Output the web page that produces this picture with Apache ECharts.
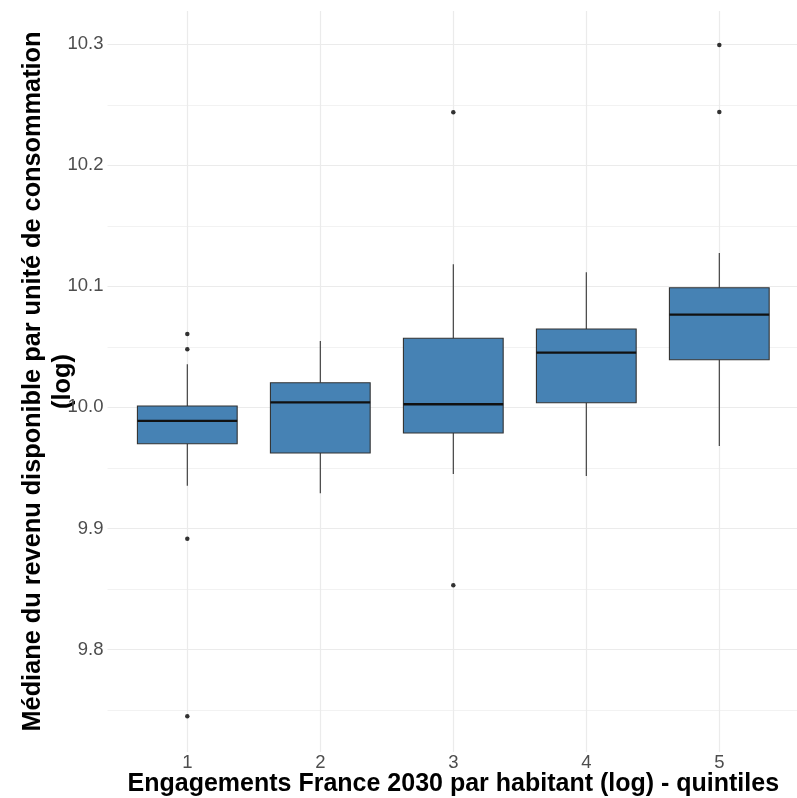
<!DOCTYPE html>
<html><head><meta charset="utf-8">
<script src="https://cdn.jsdelivr.net/npm/echarts@6/dist/echarts.min.js"></script>
<style>html,body{margin:0;padding:0;background:#fff}#c{width:797px;height:798px}</style>
</head><body><div id="c"></div>
<script>
// ---- data ----
const categories = ['1', '2', '3', '4', '5'];
const whiskerLow  = [9.9353, 9.9290, 9.9450, 9.9433, 9.9681];
const q1          = [9.9700, 9.9623, 9.9789, 10.0039, 10.0394];
const median      = [9.9888, 10.0042, 10.0026, 10.0452, 10.0766];
const q3          = [10.0012, 10.0204, 10.0571, 10.0648, 10.0989];
const whiskerHigh = [10.0356, 10.0549, 10.1182, 10.1116, 10.1276];
const outlierGroup = [0, 0, 0, 0, 2, 2, 4, 4];
const outlierValue = [10.0607, 10.0480, 9.8915, 9.7448, 10.2438, 9.8530, 10.2994, 10.2441];
const yMajorTicks  = [9.8, 9.9, 10.0, 10.1, 10.2, 10.3];
const yMajorLabels = ['9.8', '9.9', '10.0', '10.1', '10.2', '10.3'];
const yMinorTicks  = [9.75, 9.85, 9.95, 10.05, 10.15, 10.25];
const xTitle = 'Engagements France 2030 par habitant (log) - quintiles';
const yTitle = 'Médiane du revenu disponible par unité de consommation\n(log)';

// ---- chart ----
const FONT = '"Liberation Sans", Arial, sans-serif';
const Y_MIN = 9.7153, Y_MAX = 10.3275;
const chart = echarts.init(document.getElementById('c'), null, {renderer: 'canvas'});

const boxData = categories.map((c, i) => [i, whiskerLow[i], q1[i], median[i], q3[i], whiskerHigh[i]]);
const outData = outlierGroup.map((g, i) => [g, outlierValue[i]]);

const hLines = [];
yMinorTicks.forEach(v => hLines.push({yAxis: v, lineStyle: {color: '#f2f2f2', width: 1, type: 'solid'}, label: {show: false}}));
yMajorTicks.forEach((v, i) => hLines.push({
  yAxis: v, lineStyle: {color: '#ebebeb', width: 1.2, type: 'solid'},
  label: {show: true, position: 'start', formatter: yMajorLabels[i], distance: 4,
          color: '#4d4d4d', fontSize: 18.5, fontFamily: FONT}
}));
const vLines = categories.map((c, i) => ({xAxis: i}));

chart.setOption({
  animation: false,
  backgroundColor: '#ffffff',
  textStyle: {fontFamily: FONT},
  grid: [
    {left: 107.5, right: 0, top: 11, bottom: 46, outerBoundsMode: 'none', containLabel: false},
    {left: 120.8, right: 11.2, top: 11, bottom: 46, outerBoundsMode: 'none', containLabel: false}
  ],
  xAxis: [
    {gridIndex: 0, type: 'value', min: 0, max: 1, show: false},
    {gridIndex: 1, type: 'category', data: categories,
     axisLine: {show: false}, axisTick: {show: false}, splitLine: {show: false},
     axisLabel: {fontSize: 18.5, color: '#4d4d4d', margin: 1, fontFamily: FONT},
     name: xTitle, nameLocation: 'middle', nameGap: 19.5, nameMoveOverlap: false,
     nameTextStyle: {fontSize: 25, fontWeight: 'bold', color: '#000', fontFamily: FONT}}
  ],
  yAxis: [
    {gridIndex: 0, type: 'value', min: Y_MIN, max: Y_MAX, show: false},
    {gridIndex: 1, type: 'value', min: Y_MIN, max: Y_MAX,
     axisLine: {show: false}, axisTick: {show: false}, axisLabel: {show: false}, splitLine: {show: false},
     name: yTitle, nameLocation: 'middle', nameGap: 43, nameRotate: 90, nameMoveOverlap: false,
     nameTextStyle: {fontSize: 25.3, fontWeight: 'bold', color: '#000', fontFamily: FONT, lineHeight: 30, align: 'center'}}
  ],
  series: [
    {type: 'line', xAxisIndex: 0, yAxisIndex: 0, data: [], z: 0, silent: true,
     markLine: {silent: true, symbol: 'none', z: 0, animation: false, data: hLines}},
    {type: 'line', xAxisIndex: 1, yAxisIndex: 1, data: [], z: 0, silent: true,
     markLine: {silent: true, symbol: 'none', z: 0, animation: false, label: {show: false},
                lineStyle: {color: '#ebebeb', width: 1.2, type: 'solid'}, data: vLines}},
    {type: 'custom', xAxisIndex: 1, yAxisIndex: 1, z: 3,
     encode: {x: 0, y: [1, 2, 3, 4, 5]},
     data: boxData,
     renderItem: function (params, api) {
       const x = api.value(0);
       const lo = api.coord([x, api.value(1)]);
       const b1 = api.coord([x, api.value(2)]);
       const md = api.coord([x, api.value(3)]);
       const b3 = api.coord([x, api.value(4)]);
       const hi = api.coord([x, api.value(5)]);
       const bw = api.size([1, 0])[0] * 0.75;
       const cx = lo[0];
       return {type: 'group', children: [
         {type: 'line', shape: {x1: cx, y1: hi[1], x2: cx, y2: b3[1]}, style: {stroke: '#333333', lineWidth: 1.1}},
         {type: 'line', shape: {x1: cx, y1: b1[1], x2: cx, y2: lo[1]}, style: {stroke: '#333333', lineWidth: 1.1}},
         {type: 'rect', shape: {x: cx - bw / 2, y: b3[1], width: bw, height: b1[1] - b3[1]},
          style: {fill: '#4682B4', stroke: '#333333', lineWidth: 1.1}},
         {type: 'line', shape: {x1: cx - bw / 2, y1: md[1], x2: cx + bw / 2, y2: md[1]},
          style: {stroke: '#111111', lineWidth: 2.3}}
       ]};
     }},
    {type: 'scatter', xAxisIndex: 1, yAxisIndex: 1, z: 4, data: outData,
     symbol: 'circle', symbolSize: 4.5, itemStyle: {color: '#000'}}
  ]
});
</script>
</body></html>
